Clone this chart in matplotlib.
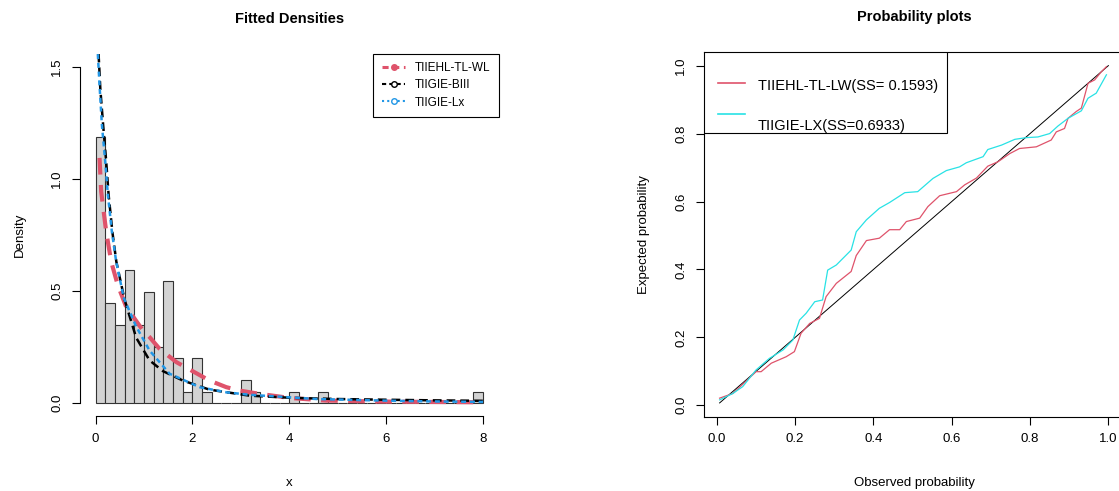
import numpy as np
import matplotlib
matplotlib.use("Agg")
import matplotlib.pyplot as plt
from matplotlib.lines import Line2D
from matplotlib.patches import Rectangle

plt.rcParams['font.family'] = ['Liberation Sans', 'DejaVu Sans']

# ---- histogram (bin width 0.2, n = 101) ----
bin_edges = np.round(np.arange(0, 8.01, 0.2), 2)
bin_counts = [24, 9, 7, 12, 7, 10, 5, 11, 4, 1,
              4, 1, 0, 0, 0, 2, 1, 0, 0, 0,
              1, 0, 0, 1, 0, 0, 0, 0, 0, 0,
              0, 0, 0, 0, 0, 0, 0, 0, 0, 1]

# ---- fitted densities ----
x_wl = [0.083, 0.117, 0.22, 0.324, 0.46, 0.633, 0.978, 1.115, 1.32, 1.67, 2.01,
        2.35, 2.70, 2.97, 3.39, 4.0, 4.76, 5.8, 6.9, 8.0]
y_wl = [1.094, 0.944, 0.765, 0.63, 0.525, 0.428, 0.323, 0.293, 0.241, 0.181, 0.140,
        0.099, 0.069, 0.054, 0.039, 0.021, 0.009, 0.005, 0.003, 0.0015]

x_b3 = [0.063, 0.10, 0.158, 0.22, 0.27, 0.35, 0.43, 0.60, 0.84, 1.115, 1.39,
        1.80, 2.35, 3.18, 4.08, 5.0, 5.93, 7.0, 8.0]
y_b3 = [1.56, 1.40, 1.24, 1.08, 0.93, 0.76, 0.63, 0.46, 0.29, 0.189, 0.141,
        0.099, 0.058, 0.031, 0.021, 0.016, 0.013, 0.010, 0.008]

x_lx = [0.048, 0.083, 0.131, 0.20, 0.255, 0.337, 0.427, 0.585, 0.84, 1.115, 1.53,
        2.15, 2.70, 3.18, 4.56, 5.93, 7.0, 8.0]
y_lx = [1.558, 1.42, 1.244, 1.079, 0.93, 0.765, 0.63, 0.467, 0.34, 0.233, 0.129,
        0.069, 0.046, 0.035, 0.016, 0.009, 0.005, 0.003]

# ---- probability plot ----
diag = [0.007, 1.0]
obs_lw = [0.007, 0.041, 0.10, 0.113, 0.139, 0.177, 0.198, 0.215, 0.237, 0.262, 0.279,
          0.305, 0.343, 0.356, 0.382, 0.415, 0.441, 0.467, 0.484, 0.518, 0.539, 0.569,
          0.612, 0.633, 0.663, 0.692, 0.718, 0.748, 0.773, 0.816, 0.854, 0.867, 0.888,
          0.897, 0.918, 0.931, 0.948, 0.965, 0.982, 0.995]
exp_lw = [0.021, 0.035, 0.099, 0.099, 0.124, 0.143, 0.158, 0.212, 0.241, 0.256, 0.32,
          0.359, 0.394, 0.441, 0.485, 0.492, 0.517, 0.517, 0.541, 0.551, 0.585, 0.617,
          0.629, 0.649, 0.669, 0.704, 0.717, 0.741, 0.756, 0.761, 0.781, 0.805, 0.815,
          0.845, 0.865, 0.875, 0.948, 0.958, 0.982, 0.997]
obs_lx = [0.007, 0.041, 0.066, 0.10, 0.134, 0.169, 0.194, 0.211, 0.228, 0.25, 0.27,
          0.283, 0.305, 0.343, 0.356, 0.382, 0.415, 0.441, 0.48, 0.513, 0.552, 0.586,
          0.62, 0.637, 0.68, 0.692, 0.727, 0.761, 0.79, 0.82, 0.85, 0.871, 0.897,
          0.931, 0.948, 0.969, 0.995]
exp_lx = [0.016, 0.035, 0.055, 0.104, 0.138, 0.163, 0.192, 0.251, 0.271, 0.305, 0.31,
          0.398, 0.413, 0.457, 0.511, 0.546, 0.58, 0.597, 0.626, 0.629, 0.668, 0.691,
          0.702, 0.714, 0.732, 0.753, 0.766, 0.783, 0.788, 0.79, 0.80, 0.822, 0.845,
          0.867, 0.904, 0.919, 0.973]

red = "#DF536B"
blue = "#2297E6"
cyan = "#28E2E5"

fig = plt.figure(figsize=(11.19, 4.91), dpi=100)
ax1 = fig.add_axes([0.0715, 0.1527, 0.374, 0.738])
ax2 = fig.add_axes([0.6291, 0.1517, 0.3754, 0.7423])

# left: histogram + densities
ax1.hist(bin_edges[:-1], bins=bin_edges, weights=bin_counts, density=True,
         color="#D3D3D3", edgecolor="#333333", linewidth=0.8)
ax1.plot(x_wl, y_wl, color=red, lw=3, ls=(0, (4, 2.5)))
ax1.plot(x_b3, y_b3, color="black", lw=1.8, ls=(0, (3.5, 2)))
ax1.plot(x_lx, y_lx, color=blue, lw=1.8, ls=(0, (2, 1.5)))
ax1.set_xlim(-0.32, 8.32)
ax1.set_ylim(-0.06, 1.56)
for s in ["top", "right"]:
    ax1.spines[s].set_visible(False)
ax1.spines["left"].set_bounds(0, 1.5)
ax1.spines["bottom"].set_bounds(0, 8)
ax1.set_xticks([0, 2, 4, 6, 8])
ax1.set_yticks([0, 0.5, 1.0, 1.5])
ax1.set_yticklabels(["0.0", "0.5", "1.0", "1.5"], rotation=90, va="center")
ax1.set_xlabel("x", fontsize=9.5, labelpad=23)
ax1.set_ylabel("Density", fontsize=9.5, labelpad=18)
ax1.set_title("Fitted Densities", fontsize=10.5, fontweight="bold", pad=22)

handles = [Line2D([], [], color=red, lw=2.2, ls=(0, (2, 1.5)), marker="o", ms=4),
           Line2D([], [], color="black", lw=1.5, ls=(0, (2, 1.5)), marker="o", ms=4,
                  mfc="white"),
           Line2D([], [], color=blue, lw=1.5, ls=(0, (1, 1.5)), marker="o", ms=4,
                  mfc="white")]
leg = ax1.legend(handles, ["TIIEHL-TL-WL", "TIIGIE-BIII", "TIIGIE-Lx"],
                 loc="upper right", bbox_to_anchor=(1.0, 1.0), fontsize=8.5,
                 fancybox=False, framealpha=1, edgecolor="black", borderaxespad=0,
                 handlelength=2.0, labelspacing=0.45, borderpad=0.7, handletextpad=0.8)
leg.get_frame().set_linewidth(0.8)

# right: probability plot
ax2.plot(diag, diag, color="black", lw=0.7)
ax2.plot(obs_lw, exp_lw, color=red, lw=0.9)
ax2.plot(obs_lx, exp_lx, color=cyan, lw=0.9)
ax2.set_xlim(-0.033, 1.04)
ax2.set_ylim(-0.033, 1.04)
ax2.set_xticks([0, 0.2, 0.4, 0.6, 0.8, 1.0])
ax2.set_yticks([0, 0.2, 0.4, 0.6, 0.8, 1.0])
ax2.set_xticklabels(["0.0", "0.2", "0.4", "0.6", "0.8", "1.0"])
ax2.set_yticklabels(["0.0", "0.2", "0.4", "0.6", "0.8", "1.0"], rotation=90, va="center")
ax2.set_xlabel("Observed probability", fontsize=9.5, labelpad=23)
ax2.set_ylabel("Expected probability", fontsize=9.5, labelpad=18)
ax2.set_title("Probability plots", fontsize=10.5, fontweight="bold", pad=22)

# legend box in the top-left corner
ax2.add_patch(Rectangle((0, 0.778), 0.579, 0.222, transform=ax2.transAxes,
                        facecolor="white", edgecolor="black", lw=0.8, zorder=5))
ax2.plot([0.033, 0.097], [0.915, 0.915], color=red, lw=1.2,
         transform=ax2.transAxes, zorder=6)
ax2.plot([0.033, 0.097], [0.83, 0.83], color=cyan, lw=1.2,
         transform=ax2.transAxes, zorder=6)
ax2.text(0.128, 0.907, "TIIEHL-TL-LW(SS= 0.1593)", transform=ax2.transAxes,
         fontsize=10.5, va="center", zorder=6)
ax2.text(0.128, 0.797, "TIIGIE-LX(SS=0.6933)", transform=ax2.transAxes,
         fontsize=10.5, va="center", zorder=6)

for ax in (ax1, ax2):
    ax.tick_params(labelsize=9.5, length=6, width=0.8, pad=6)
    for s in ax.spines.values():
        s.set_linewidth(0.8)

fig.savefig("out.png", dpi=100)
